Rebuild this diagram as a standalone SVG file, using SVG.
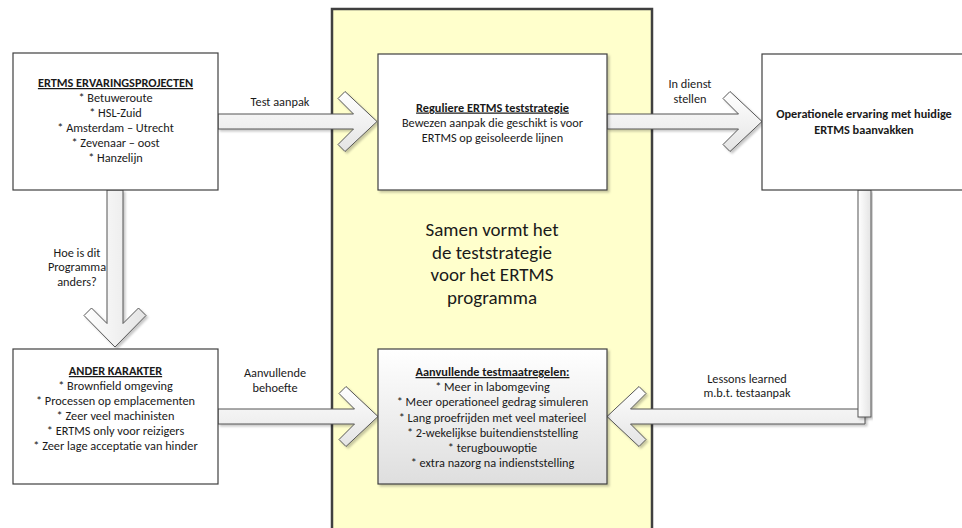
<svg xmlns="http://www.w3.org/2000/svg" width="962" height="528" viewBox="0 0 962 528">
<defs>
<linearGradient id="gv" x1="0" y1="0" x2="0" y2="1"><stop offset="0" stop-color="#ffffff"/><stop offset="1" stop-color="#e4e4e4"/></linearGradient>
<linearGradient id="gh" x1="0" y1="0" x2="1" y2="0"><stop offset="0" stop-color="#ffffff"/><stop offset="1" stop-color="#e4e4e4"/></linearGradient>
<linearGradient id="gbox" x1="0" y1="0" x2="0" y2="1"><stop offset="0" stop-color="#ffffff"/><stop offset="1" stop-color="#dedede"/></linearGradient>
<filter id="sh" x="-10%" y="-10%" width="125%" height="125%"><feDropShadow dx="2" dy="2" stdDeviation="1.2" flood-color="#000" flood-opacity="0.22"/></filter>
</defs>
<style>
text{font-family:"Carlito","Liberation Sans",Arial,sans-serif;fill:#1a1a1a;text-anchor:middle}
.t{font-size:12.3px}
.b{font-size:12.3px;font-weight:bold}
.u{text-decoration:underline}
.big{font-size:19px}
.box{fill:#ffffff;stroke:#404040;stroke-width:1.2}
.arr{stroke:#555555;stroke-width:1}
</style>
<rect x="0" y="0" width="962" height="528" fill="#ffffff"/>
<g id="panel">
<rect x="332" y="9" width="320" height="530" fill="#ffffcc" stroke="#404040" stroke-width="2.5"/>
<text class="big" x="492" y="236">Samen vormt het</text>
<text class="big" x="492" y="258.5">de teststrategie</text>
<text class="big" x="492" y="281">voor het ERTMS</text>
<text class="big" x="492" y="303.5">programma</text>
</g>
<g id="connectors">
<path class="arr" fill="url(#gv)" filter="url(#sh)" d="M218,114 L353.5,114 L338,98.5 L345,91.5 L377,121.5 L345,151.5 L338,144.5 L353.5,129 L218,129 Z"/>
<path class="arr" fill="url(#gv)" filter="url(#sh)" d="M607,114 L738.5,114 L723,98.5 L730,91.5 L762,121.5 L730,151.5 L723,144.5 L738.5,129 L607,129 Z"/>
<path class="arr" fill="url(#gh)" filter="url(#sh)" d="M107,190 L107,323.5 L91.5,308 L84,315.5 L115,347 L146,315.5 L138.5,308 L123,323.5 L123,190 Z"/>
<path class="arr" fill="url(#gv)" filter="url(#sh)" d="M218,409 L354.5,409 L339,393.5 L346,386.5 L378,416.5 L346,446.5 L339,439.5 L354.5,424 L218,424 Z"/>
<path class="arr" fill="url(#gv)" filter="url(#sh)" d="M865,409 L630.5,409 L646,393.5 L639,386.5 L607,416.5 L639,446.5 L646,439.5 L630.5,424 L865,424 Z"/>
<rect class="arr" x="858" y="190" width="13" height="227" fill="url(#gh)" filter="url(#sh)"/>
<text class="t" x="280" y="106">Test aanpak</text>
<text class="t" x="690" y="88">In dienst</text>
<text class="t" x="690" y="103">stellen</text>
<text class="t" x="77" y="257">Hoe is dit</text>
<text class="t" x="77" y="271">Programma</text>
<text class="t" x="77" y="286">anders?</text>
<text class="t" x="275" y="377">Aanvullende</text>
<text class="t" x="275" y="392">behoefte</text>
<text class="t" x="747" y="383">Lessons learned</text>
<text class="t" x="747" y="397">m.b.t. testaanpak</text>
</g>
<g id="n1">
<rect class="box" x="13" y="53" width="205" height="137"/>
<text class="b u" x="115.5" y="87">ERTMS ERVARINGSPROJECTEN</text>
<text class="t" x="115.5" y="102">* Betuweroute</text>
<text class="t" x="115.5" y="117">* HSL-Zuid</text>
<text class="t" x="115.5" y="132">* Amsterdam – Utrecht</text>
<text class="t" x="115.5" y="147">* Zevenaar – oost</text>
<text class="t" x="115.5" y="162">* Hanzelijn</text>
</g>
<g id="n2">
<rect class="box" x="378" y="54" width="229" height="136" filter="url(#sh)"/>
<text class="b u" x="492.5" y="111.5">Reguliere ERTMS teststrategie</text>
<text class="t" x="492.5" y="126.5">Bewezen aanpak die geschikt is voor</text>
<text class="t" x="492.5" y="141.5">ERTMS op geisoleerde lijnen</text>
</g>
<g id="n3">
<rect class="box" x="762" y="54" width="205" height="136"/>
<text class="b" x="864" y="118">Operationele ervaring met huidige</text>
<text class="b" x="864" y="134">ERTMS baanvakken</text>
</g>
<g id="n4">
<rect class="box" x="13" y="349" width="205" height="135"/>
<text class="b u" x="115.5" y="375">ANDER KARAKTER</text>
<text class="t" x="115.5" y="390">* Brownfield omgeving</text>
<text class="t" x="115.5" y="405">* Processen op emplacementen</text>
<text class="t" x="115.5" y="420">* Zeer veel machinisten</text>
<text class="t" x="115.5" y="435">* ERTMS only voor reizigers</text>
<text class="t" x="115.5" y="450">* Zeer lage acceptatie van hinder</text>
</g>
<g id="n5">
<rect x="378" y="349" width="229" height="135" fill="url(#gbox)" stroke="#404040" stroke-width="1.2" filter="url(#sh)"/>
<text class="b u" x="492.5" y="376">Aanvullende testmaatregelen:</text>
<text class="t" x="492.5" y="391">* Meer in labomgeving</text>
<text class="t" x="492.5" y="406">* Meer operationeel gedrag simuleren</text>
<text class="t" x="492.5" y="421.5">* Lang proefrijden met veel materieel</text>
<text class="t" x="492.5" y="436.5">* 2-wekelijkse buitendienststelling</text>
<text class="t" x="492.5" y="452">* terugbouwoptie</text>
<text class="t" x="492.5" y="467">* extra nazorg na indienststelling</text>
</g>
</svg>
